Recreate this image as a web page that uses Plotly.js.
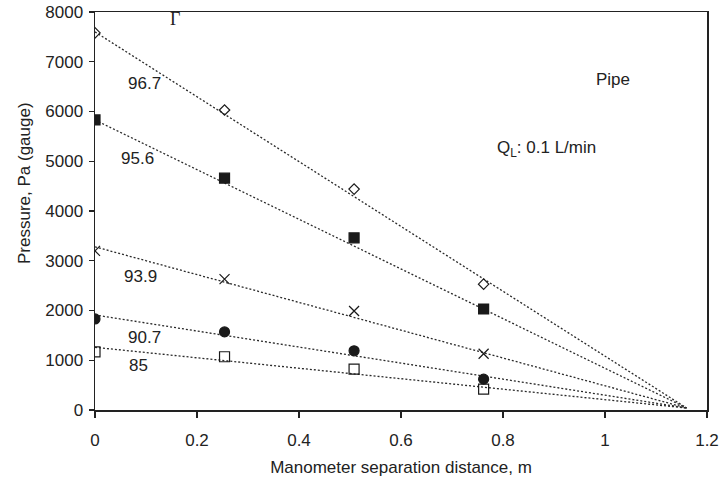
<!DOCTYPE html>
<html><head><meta charset="utf-8">
<script src="https://cdn.plot.ly/plotly-3.0.1.min.js"></script>
<style>html,body{margin:0;padding:0;background:#fff}#chart{width:721px;height:482px}</style>
</head><body><div id="chart"></div>
<script>
// Data
const distance = [0, 0.254, 0.508, 0.762];
const seriesNames = ["96.7", "95.6", "93.9", "90.7", "85"];
const p967 = [7580, 6030, 4440, 2530];
const p956 = [5830, 4660, 3460, 2030];
const p939 = [3200, 2630, 1990, 1130];
const p907 = [1830, 1570, 1190, 620];
const p85  = [1170, 1070, 820, 420];
// Trend lines: value at x=0, all converging at the end point
const lineX = [0, 1.16];
const lineStart = [7600, 5830, 3280, 1910, 1260];
const lineEnd = 40;
const xTicks = [0, 0.2, 0.4, 0.6, 0.8, 1, 1.2];
const xTickText = ["0", "0.2", "0.4", "0.6", "0.8", "1", "1.2"];

const values = [p967, p956, p939, p907, p85];
const symbols = ["diamond-open", "square", "x-thin-open", "circle", "square-open"];
const sizes = [8, 10, 10, 10, 10];

const traces = [];
for (let i = 0; i < values.length; i++) {
  traces.push({
    x: lineX, y: [lineStart[i], lineEnd], mode: "lines", type: "scatter",
    line: {color: "#2a2a2a", width: 1.3, dash: "2px,2px"}, hoverinfo: "skip", showlegend: false
  });
}
for (let i = 0; i < values.length; i++) {
  traces.push({
    x: distance, y: values[i], mode: "markers", type: "scatter", name: seriesNames[i],
    marker: {symbol: symbols[i], size: sizes[i], color: "#1a1a1a",
             line: {color: "#1a1a1a", width: 1.2}},
    showlegend: false
  });
}

const F = "Liberation Sans, Arial, sans-serif";
const labelX = [0.097, 0.083, 0.090, 0.098, 0.086];
const labelY = [6560, 5060, 2680, 1460, 900];
const annotations = seriesNames.map((s, i) => ({
  x: labelX[i], y: labelY[i], xref: "x", yref: "y", text: s, showarrow: false,
  font: {family: F, size: 17, color: "#222"}
}));
annotations.push({x: 0.157, y: 7860, xref: "x", yref: "y", text: "Γ", showarrow: false,
  font: {family: "Liberation Serif, Times New Roman, serif", size: 18, color: "#222"}});
annotations.push({x: 1.015, y: 6650, xref: "x", yref: "y", text: "Pipe", showarrow: false,
  font: {family: F, size: 17, color: "#222"}});
annotations.push({x: 0.785, y: 5250, xref: "x", yref: "y", xanchor: "left",
  text: "Q<sub>L</sub>: 0.1 L/min", showarrow: false,
  font: {family: F, size: 17, color: "#222"}});
annotations.push({x: -0.135, y: 0.57, xref: "paper", yref: "paper", textangle: -90,
  text: "Pressure, Pa (gauge)", showarrow: false,
  font: {family: F, size: 17, color: "#222"}});

const layout = {
  width: 721, height: 482,
  margin: {l: 95, r: 14, t: 12, b: 72},
  paper_bgcolor: "#fff", plot_bgcolor: "#fff",
  font: {family: F, size: 17, color: "#222"},
  xaxis: {
    range: [0, 1.2], tickvals: xTicks, ticktext: xTickText, showgrid: false, zeroline: false,
    showline: true, linecolor: "#222", linewidth: 1.5, mirror: true,
    ticks: "outside", ticklen: 6, tickcolor: "#222", tickwidth: 1.3,
    tickfont: {size: 17}, ticklabelstandoff: 8,
    title: {text: "Manometer separation distance, m", font: {size: 17}, standoff: 12}
  },
  yaxis: {
    range: [0, 8000], dtick: 1000, showgrid: false, zeroline: false,
    showline: true, linecolor: "#222", linewidth: 1.5, mirror: true,
    ticks: "outside", ticklen: 5, tickcolor: "#222", tickwidth: 1.3,
    tickfont: {size: 17}, ticklabelstandoff: 2
  },
  annotations: annotations,
  showlegend: false
};
Plotly.newPlot("chart", traces, layout, {displayModeBar: false, staticPlot: true});
</script></body></html>
